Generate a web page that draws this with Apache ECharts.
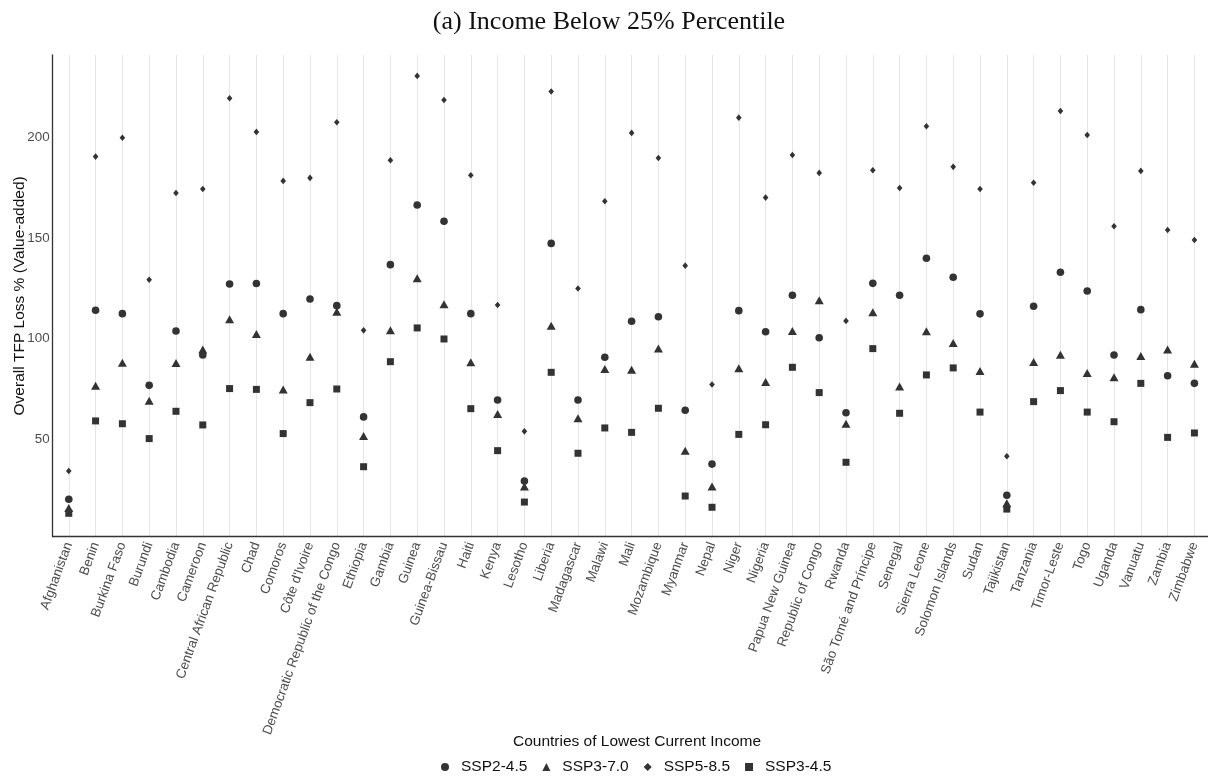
<!DOCTYPE html>
<html>
<head>
<meta charset="utf-8">
<title>Income Below 25% Percentile</title>
<script src="https://cdn.jsdelivr.net/npm/echarts@6/dist/echarts.min.js"></script>
<style>
  html, body { margin: 0; padding: 0; background: #ffffff; }
  #chart { width: 1208px; height: 778px; }
</style>
</head>
<body>
<div id="chart"></div>
<script>
// Countries of lowest current income, in plotting order
const countries = [
  'Afghanistan', 'Benin', 'Burkina Faso', 'Burundi', 'Cambodia', 'Cameroon',
  'Central African Republic', 'Chad', 'Comoros', "Côte d'Ivoire",
  'Democratic Republic of the Congo', 'Ethiopia', 'Gambia', 'Guinea',
  'Guinea-Bissau', 'Haiti', 'Kenya', 'Lesotho', 'Liberia', 'Madagascar',
  'Malawi', 'Mali', 'Mozambique', 'Myanmar', 'Nepal', 'Niger', 'Nigeria',
  'Papua New Guinea', 'Republic of Congo', 'Rwanda', 'São Tomé and Príncipe',
  'Senegal', 'Sierra Leone', 'Solomon Islands', 'Sudan', 'Tajikistan',
  'Tanzania', 'Timor-Leste', 'Togo', 'Uganda', 'Vanuatu', 'Zambia', 'Zimbabwe'
];

// Overall TFP loss (%) under each scenario
const ssp245 = [20.0, 114.1, 112.4, 76.7, 103.8, 91.8, 127.2, 127.4, 112.4, 119.7, 116.4, 61.0, 136.8, 166.5, 158.4, 112.4, 69.4, 29.1, 147.4, 69.4, 90.7, 108.6, 110.9, 64.3, 37.5, 113.9, 103.4, 121.6, 100.4, 63.1, 127.5, 121.6, 140.0, 130.5, 112.3, 22.0, 116.1, 133.0, 123.7, 91.8, 114.4, 81.5, 77.7];
const ssp370 = [15.6, 76.5, 88.0, 69.1, 87.8, 94.5, 109.6, 102.3, 74.6, 91.0, 113.4, 51.5, 104.1, 130.0, 117.1, 88.2, 62.5, 26.3, 106.4, 60.3, 84.9, 84.5, 95.0, 44.2, 26.3, 85.2, 78.4, 103.8, 119.1, 57.6, 113.1, 76.2, 103.6, 97.8, 83.9, 18.0, 88.3, 92.0, 82.9, 80.7, 91.3, 94.5, 87.5];
const ssp585 = [34.1, 190.6, 200.0, 129.3, 172.5, 174.5, 219.7, 202.9, 178.5, 180.0, 207.7, 104.1, 188.8, 230.8, 218.8, 181.3, 116.7, 53.8, 223.0, 124.9, 168.4, 202.4, 189.9, 136.3, 77.1, 210.0, 170.2, 191.4, 182.5, 108.8, 183.8, 175.0, 205.7, 185.5, 174.5, 41.4, 177.6, 213.3, 201.4, 155.9, 183.5, 154.1, 149.1];
const ssp345 = [13.0, 59.0, 57.6, 50.2, 63.8, 57.0, 75.1, 74.7, 52.7, 68.1, 74.9, 36.2, 88.5, 105.3, 99.8, 65.1, 44.2, 18.6, 83.2, 42.9, 55.5, 53.3, 65.3, 21.6, 16.0, 52.3, 57.1, 85.7, 73.1, 38.4, 95.0, 62.8, 81.9, 85.4, 63.4, 15.1, 68.6, 74.1, 63.4, 58.6, 77.7, 50.8, 53.0];

// Tick labels
const yTicks = [50, 100, 150, 200];
const xTicks = countries.map((_, i) => i);

const SANS = '"Liberation Sans", Arial, Helvetica, sans-serif';
const SERIF = '"Liberation Serif", "DejaVu Serif", serif';
const INK = '#333333';

const toPoints = arr => arr.map((v, i) => [i, v]);

function scatter(name, values, symbol, size) {
  return {
    name: name,
    type: 'scatter',
    data: toPoints(values),
    symbol: symbol,
    symbolSize: size,
    itemStyle: { color: INK, opacity: 1 },
    emphasis: { disabled: true },
    animation: false
  };
}

const chart = echarts.init(document.getElementById('chart'), null, { renderer: 'canvas' });

chart.setOption({
  backgroundColor: '#ffffff',
  animation: false,
  title: [
    {
      text: '(a) Income Below 25% Percentile',
      left: 604, top: 4, textAlign: 'center',
      textStyle: { fontFamily: SERIF, fontSize: 26, fontWeight: 'normal', color: '#111111' }
    },
    {
      text: 'Countries of Lowest Current Income',
      left: 632, top: 729, textAlign: 'center',
      textStyle: { fontFamily: SANS, fontSize: 15.5, fontWeight: 'normal', color: '#111111' }
    }
  ],
  legend: {
    left: 436, top: 754,
    itemWidth: 8, itemHeight: 8, itemGap: 15,
    data: ['SSP2-4.5', 'SSP3-7.0', 'SSP5-8.5', 'SSP3-4.5'],
    textStyle: { fontFamily: SANS, fontSize: 15.5, color: '#111111', padding: [0, 0, 0, 7] },
    selectedMode: false
  },
  grid: {
    left: 52.7, top: 55, width: 1157.8, height: 481.7,
    containLabel: false, outerBoundsMode: 'none'
  },
  xAxis: {
    type: 'value',
    min: -0.6, max: 42.6,
    axisLine: { show: true, onZero: false, lineStyle: { color: '#333333', width: 1.3 } },
    axisTick: { show: false, customValues: xTicks },
    splitLine: { show: true, lineStyle: { color: '#e6e6e6', width: 1 } },
    axisLabel: {
      customValues: xTicks,
      formatter: v => countries[v],
      rotate: 70, margin: 6,
      fontFamily: SANS, fontSize: 13.4, color: '#4d4d4d'
    }
  },
  yAxis: {
    type: 'value',
    min: 1.35, max: 241.2,
    name: 'Overall TFP Loss % (Value-added)',
    nameLocation: 'middle', nameGap: 25, nameMoveOverlap: false,
    nameTextStyle: { fontFamily: SANS, fontSize: 15.5, color: '#111111' },
    axisLine: { show: true, onZero: false, lineStyle: { color: '#333333', width: 1.3 } },
    axisTick: { show: false, customValues: yTicks },
    splitLine: { show: false },
    axisLabel: {
      customValues: yTicks,
      margin: 3,
      fontFamily: SANS, fontSize: 13.4, color: '#4d4d4d'
    }
  },
  series: [
    scatter('SSP3-4.5', ssp345, 'rect', 7),
    scatter('SSP3-7.0', ssp370, 'triangle', [9, 8]),
    scatter('SSP2-4.5', ssp245, 'circle', 7.6),
    scatter('SSP5-8.5', ssp585, 'diamond', [5.6, 6.6])
  ]
});
</script>
</body>
</html>
